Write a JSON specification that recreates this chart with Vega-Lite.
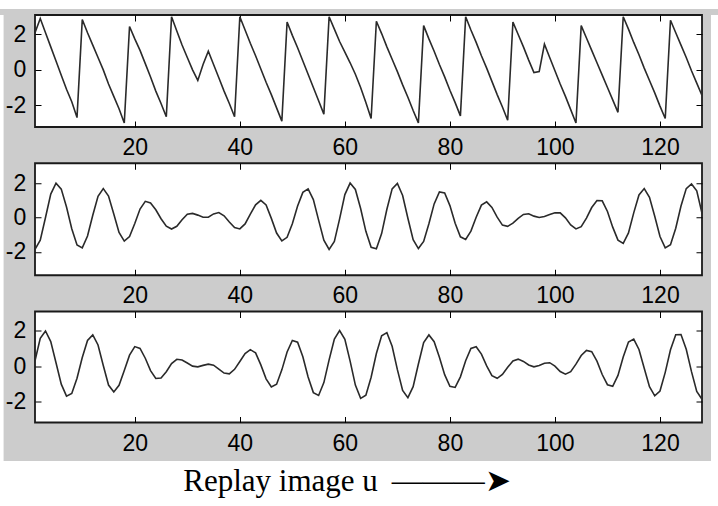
{
  "$schema": "https://vega.github.io/schema/vega-lite/v6.json",
  "background": "#cccccc",
  "padding": 0,
  "spacing": 0,
  "config": {
    "view": {"stroke": null},
    "axis": {"domain": false, "grid": false, "tickSize": -6, "tickColor": "#000", "tickWidth": 1, "labelColor": "#000", "labelFont": "Liberation Sans", "labelFontSize": 23, "labelFlush": false, "labelOverlap": false}
  },
  "datasets": {
    "sig": [
      {"i":1,"a":2.1,"b":-1.85,"c":0.3},{"i":2,"a":2.9,"b":-1.31,"c":1.55},{"i":3,"a":2.1,"b":0.0,"c":1.96},{"i":4,"a":1.3,"b":1.36,"c":1.37},
      {"i":5,"a":0.5,"b":1.99,"c":0.19},{"i":6,"a":-0.3,"b":1.65,"c":-1.01},{"i":7,"a":-1.1,"b":0.61,"c":-1.68},{"i":8,"a":-1.8,"b":-0.65,"c":-1.53},
      {"i":9,"a":-2.7,"b":-1.59,"c":-0.68},{"i":10,"a":2.85,"b":-1.76,"c":0.48},{"i":11,"a":2.1,"b":-1.07,"c":1.43},{"i":12,"a":1.4,"b":0.13,"c":1.74},
      {"i":13,"a":0.7,"b":1.23,"c":1.18},{"i":14,"a":0.0,"b":1.68,"c":0.03},{"i":15,"a":-0.8,"b":1.25,"c":-1.06},{"i":16,"a":-1.5,"b":0.21,"c":-1.44},
      {"i":17,"a":-2.2,"b":-0.86,"c":-1.07},{"i":18,"a":-3.0,"b":-1.37,"c":-0.25},{"i":19,"a":2.45,"b":-1.1,"c":0.61},{"i":20,"a":1.75,"b":-0.35,"c":1.09},
      {"i":21,"a":1.1,"b":0.49,"c":0.99},{"i":22,"a":0.35,"b":0.94,"c":0.44},{"i":23,"a":-0.4,"b":0.84,"c":-0.25},{"i":24,"a":-1.2,"b":0.45,"c":-0.69},
      {"i":25,"a":-1.9,"b":-0.07,"c":-0.66},{"i":26,"a":-2.65,"b":-0.5,"c":-0.31},{"i":27,"a":3.0,"b":-0.67,"c":0.14},{"i":28,"a":2.2,"b":-0.51,"c":0.38},
      {"i":29,"a":1.4,"b":-0.13,"c":0.34},{"i":30,"a":0.7,"b":0.19,"c":0.17},{"i":31,"a":0.0,"b":0.24,"c":0.0},{"i":32,"a":-0.6,"b":0.14,"c":-0.04},
      {"i":33,"a":0.3,"b":0.02,"c":0.04},{"i":34,"a":1.05,"b":0.02,"c":0.11},{"i":35,"a":0.3,"b":0.21,"c":0.05},{"i":36,"a":-0.45,"b":0.29,"c":-0.17},
      {"i":37,"a":-1.2,"b":0.1,"c":-0.39},{"i":38,"a":-1.9,"b":-0.26,"c":-0.43},{"i":39,"a":-2.65,"b":-0.58,"c":-0.18},{"i":40,"a":3.0,"b":-0.66,"c":0.26},
      {"i":41,"a":2.25,"b":-0.37,"c":0.7},{"i":42,"a":1.5,"b":0.2,"c":0.92},{"i":43,"a":0.8,"b":0.74,"c":0.74},{"i":44,"a":0.05,"b":1.0,"c":0.07},
      {"i":45,"a":-0.7,"b":0.73,"c":-0.71},{"i":46,"a":-1.4,"b":-0.05,"c":-1.17},{"i":47,"a":-2.15,"b":-0.9,"c":-1.01},{"i":48,"a":-2.9,"b":-1.36,"c":-0.21},
      {"i":49,"a":2.7,"b":-1.15,"c":0.79},{"i":50,"a":1.95,"b":-0.36,"c":1.43},{"i":51,"a":1.25,"b":0.67,"c":1.34},{"i":52,"a":0.5,"b":1.46,"c":0.52},
      {"i":53,"a":-0.25,"b":1.66,"c":-0.61},{"i":54,"a":-1.0,"b":1.04,"c":-1.48},{"i":55,"a":-1.75,"b":-0.15,"c":-1.64},{"i":56,"a":-2.5,"b":-1.31,"c":-0.92},
      {"i":57,"a":3.0,"b":-1.85,"c":0.35},{"i":58,"a":2.3,"b":-1.39,"c":1.51},{"i":59,"a":1.6,"b":-0.08,"c":1.98},{"i":60,"a":1.0,"b":1.33,"c":1.49},
      {"i":61,"a":0.4,"b":2.0,"c":0.28},{"i":62,"a":-0.25,"b":1.63,"c":-1.06},{"i":63,"a":-1.0,"b":0.52,"c":-1.8},{"i":64,"a":-1.85,"b":-0.8,"c":-1.62},
      {"i":65,"a":-2.75,"b":-1.73,"c":-0.62},{"i":66,"a":2.75,"b":-1.81,"c":0.7},{"i":67,"a":2.05,"b":-0.93,"c":1.69},{"i":68,"a":1.3,"b":0.48,"c":1.87},
      {"i":69,"a":0.6,"b":1.66,"c":1.11},{"i":70,"a":-0.1,"b":1.98,"c":-0.2},{"i":71,"a":-0.85,"b":1.28,"c":-1.36},{"i":72,"a":-1.55,"b":-0.04,"c":-1.76},
      {"i":73,"a":-2.3,"b":-1.29,"c":-1.15},{"i":74,"a":-3.0,"b":-1.8,"c":0.12},{"i":75,"a":2.5,"b":-1.39,"c":1.32},{"i":76,"a":1.75,"b":-0.36,"c":1.74},
      {"i":77,"a":1.05,"b":0.79,"c":1.36},{"i":78,"a":0.3,"b":1.49,"c":0.49},{"i":79,"a":-0.4,"b":1.42,"c":-0.48},{"i":80,"a":-1.15,"b":0.69,"c":-1.13},
      {"i":81,"a":-1.85,"b":-0.33,"c":-1.19},{"i":82,"a":-2.6,"b":-1.12,"c":-0.6},{"i":83,"a":3.0,"b":-1.27,"c":0.3},{"i":84,"a":2.25,"b":-0.79,"c":0.99},
      {"i":85,"a":1.55,"b":0.02,"c":1.08},{"i":86,"a":0.8,"b":0.72,"c":0.67},{"i":87,"a":0.1,"b":0.91,"c":0.01},{"i":88,"a":-0.65,"b":0.59,"c":-0.53},
      {"i":89,"a":-1.4,"b":0.02,"c":-0.68},{"i":90,"a":-2.1,"b":-0.44,"c":-0.47},{"i":91,"a":-2.85,"b":-0.51,"c":-0.07},{"i":92,"a":2.7,"b":-0.33,"c":0.29},
      {"i":93,"a":2.0,"b":-0.05,"c":0.39},{"i":94,"a":1.3,"b":0.18,"c":0.26},{"i":95,"a":0.55,"b":0.22,"c":0.06},{"i":96,"a":-0.15,"b":0.08,"c":-0.04},
      {"i":97,"a":-0.1,"b":0.0,"c":0.03},{"i":98,"a":1.45,"b":0.06,"c":0.16},{"i":99,"a":0.7,"b":0.18,"c":0.19},{"i":100,"a":-0.05,"b":0.28,"c":0.0},
      {"i":101,"a":-0.8,"b":0.27,"c":-0.3},{"i":102,"a":-1.5,"b":-0.02,"c":-0.45},{"i":103,"a":-2.25,"b":-0.43,"c":-0.31},{"i":104,"a":-3.0,"b":-0.66,"c":0.11},
      {"i":105,"a":2.5,"b":-0.53,"c":0.59},{"i":106,"a":1.8,"b":-0.03,"c":0.88},{"i":107,"a":1.1,"b":0.58,"c":0.81},{"i":108,"a":0.4,"b":0.99,"c":0.28},
      {"i":109,"a":-0.3,"b":0.97,"c":-0.47},{"i":110,"a":-1.0,"b":0.35,"c":-1.04},{"i":111,"a":-1.7,"b":-0.56,"c":-1.13},{"i":112,"a":-2.4,"b":-1.31,"c":-0.52},
      {"i":113,"a":3.0,"b":-1.5,"c":0.51},{"i":114,"a":2.3,"b":-0.89,"c":1.35},{"i":115,"a":1.55,"b":0.27,"c":1.51},{"i":116,"a":0.85,"b":1.31,"c":0.93},
      {"i":117,"a":0.1,"b":1.68,"c":-0.12},{"i":118,"a":-0.6,"b":1.17,"c":-1.15},{"i":119,"a":-1.3,"b":0.07,"c":-1.66},{"i":120,"a":-2.05,"b":-1.1,"c":-1.39},
      {"i":121,"a":-2.75,"b":-1.76,"c":-0.35},{"i":122,"a":2.8,"b":-1.58,"c":0.91},{"i":123,"a":2.1,"b":-0.62,"c":1.75},{"i":124,"a":1.4,"b":0.67,"c":1.76},
      {"i":125,"a":0.7,"b":1.68,"c":0.94},{"i":126,"a":-0.05,"b":1.95,"c":-0.31},{"i":127,"a":-0.75,"b":1.55,"c":-1.41},{"i":128,"a":-1.45,"b":0.25,"c":-1.85}
    ]
  },
  "vconcat": [
    {
      "width": 718, "height": 9,
      "view": {"fill": "white", "stroke": null},
      "data": {"values": [{}]},
      "mark": {"type": "text", "text": "", "fontSize": 1}
    },
    {
      "spacing": 0,
      "hconcat": [
        {
          "width": 3.6, "height": 446,
          "view": {"fill": "white", "stroke": null},
          "data": {"values": [{}]},
          "mark": {"type": "text", "text": "", "fontSize": 1}
        },
        {
          "spacing": 36.25,
          "bounds": "flush",
          "vconcat": [
            {
              "width": 667, "height": 112,
              "view": {"fill": "white", "stroke": "#1a1a1a", "strokeWidth": 1.8},
              "data": {"name": "sig"},
              "layer": [
                {
                  "mark": {"type": "line", "color": "#2a2a2a", "strokeWidth": 1.6},
                  "encoding": {
                    "x": {"field": "i", "type": "quantitative", "scale": {"domain": [1, 128], "nice": false, "zero": false},
                      "axis": {"orient": "bottom", "title": null, "values": [20, 40, 60, 80, 100, 120], "labelPadding": 15.7, "labelLineHeight": 16}},
                    "y": {"field": "a", "type": "quantitative", "scale": {"domain": [-3.23, 3.1], "nice": false, "zero": false},
                      "axis": {"orient": "left", "title": null, "values": [-2, 0, 2], "labelPadding": 15.3, "labelExpr": "'' + datum.value"}}
                  }
                },
                {
                  "mark": {"type": "line", "opacity": 0},
                  "encoding": {
                    "x": {"field": "i", "type": "quantitative", "axis": {"orient": "top", "title": null, "labels": false, "values": [20, 40, 60, 80, 100, 120], "minExtent": 5, "maxExtent": 5}},
                    "y": {"field": "a", "type": "quantitative", "axis": {"orient": "right", "title": null, "labels": false, "values": [-2, 0, 2], "minExtent": 8, "maxExtent": 8}}
                  }
                }
              ],
              "resolve": {"axis": {"x": "independent", "y": "independent"}}
            },
            {
              "width": 667, "height": 112,
              "view": {"fill": "white", "stroke": "#1a1a1a", "strokeWidth": 1.8},
              "data": {"name": "sig"},
              "layer": [
                {
                  "mark": {"type": "line", "color": "#2a2a2a", "strokeWidth": 1.6},
                  "encoding": {
                    "x": {"field": "i", "type": "quantitative", "scale": {"domain": [1, 128], "nice": false, "zero": false},
                      "axis": {"orient": "bottom", "title": null, "values": [20, 40, 60, 80, 100, 120], "labelPadding": 15.7, "labelLineHeight": 16}},
                    "y": {"field": "b", "type": "quantitative", "scale": {"domain": [-3.35, 3.15], "nice": false, "zero": false},
                      "axis": {"orient": "left", "title": null, "values": [-2, 0, 2], "labelPadding": 15.3, "labelExpr": "'' + datum.value"}}
                  }
                },
                {
                  "mark": {"type": "line", "opacity": 0},
                  "encoding": {
                    "x": {"field": "i", "type": "quantitative", "axis": {"orient": "top", "title": null, "labels": false, "values": [20, 40, 60, 80, 100, 120], "minExtent": 5, "maxExtent": 5}},
                    "y": {"field": "b", "type": "quantitative", "axis": {"orient": "right", "title": null, "labels": false, "values": [-2, 0, 2], "minExtent": 8, "maxExtent": 8}}
                  }
                }
              ],
              "resolve": {"axis": {"x": "independent", "y": "independent"}}
            },
            {
              "width": 667, "height": 111,
              "view": {"fill": "white", "stroke": "#1a1a1a", "strokeWidth": 1.8},
              "data": {"name": "sig"},
              "layer": [
                {
                  "mark": {"type": "line", "color": "#2a2a2a", "strokeWidth": 1.6},
                  "encoding": {
                    "x": {"field": "i", "type": "quantitative", "scale": {"domain": [1, 128], "nice": false, "zero": false},
                      "axis": {"orient": "bottom", "title": null, "values": [20, 40, 60, 80, 100, 120], "labelPadding": 15.7, "labelLineHeight": 16}},
                    "y": {"field": "c", "type": "quantitative", "scale": {"domain": [-3.15, 3.05], "nice": false, "zero": false},
                      "axis": {"orient": "left", "title": null, "values": [-2, 0, 2], "labelPadding": 15.3, "labelExpr": "'' + datum.value"}}
                  }
                },
                {
                  "mark": {"type": "line", "opacity": 0},
                  "encoding": {
                    "x": {"field": "i", "type": "quantitative", "axis": {"orient": "top", "title": null, "labels": false, "values": [20, 40, 60, 80, 100, 120], "minExtent": 5, "maxExtent": 5}},
                    "y": {"field": "c", "type": "quantitative", "axis": {"orient": "right", "title": null, "labels": false, "values": [-2, 0, 2], "minExtent": 8, "maxExtent": 8}}
                  }
                }
              ],
              "resolve": {"axis": {"x": "independent", "y": "independent"}}
            }
          ]
        },
        {
          "width": 9, "height": 446,
          "view": {"fill": "white", "stroke": null},
          "data": {"values": [{}]},
          "mark": {"type": "text", "text": "", "fontSize": 1}
        }
      ]
    },
    {
      "width": 718, "height": 51,
      "view": {"fill": "white", "stroke": null},
      "data": {"values": [{"label": "Replay image u \u2009———➤"}]},
      "mark": {"type": "text", "font": "Liberation Serif", "fontSize": 31, "color": "#000", "baseline": "alphabetic", "align": "center", "dx": -12, "dy": 4},
      "encoding": {"text": {"field": "label"}}
    }
  ]
}
